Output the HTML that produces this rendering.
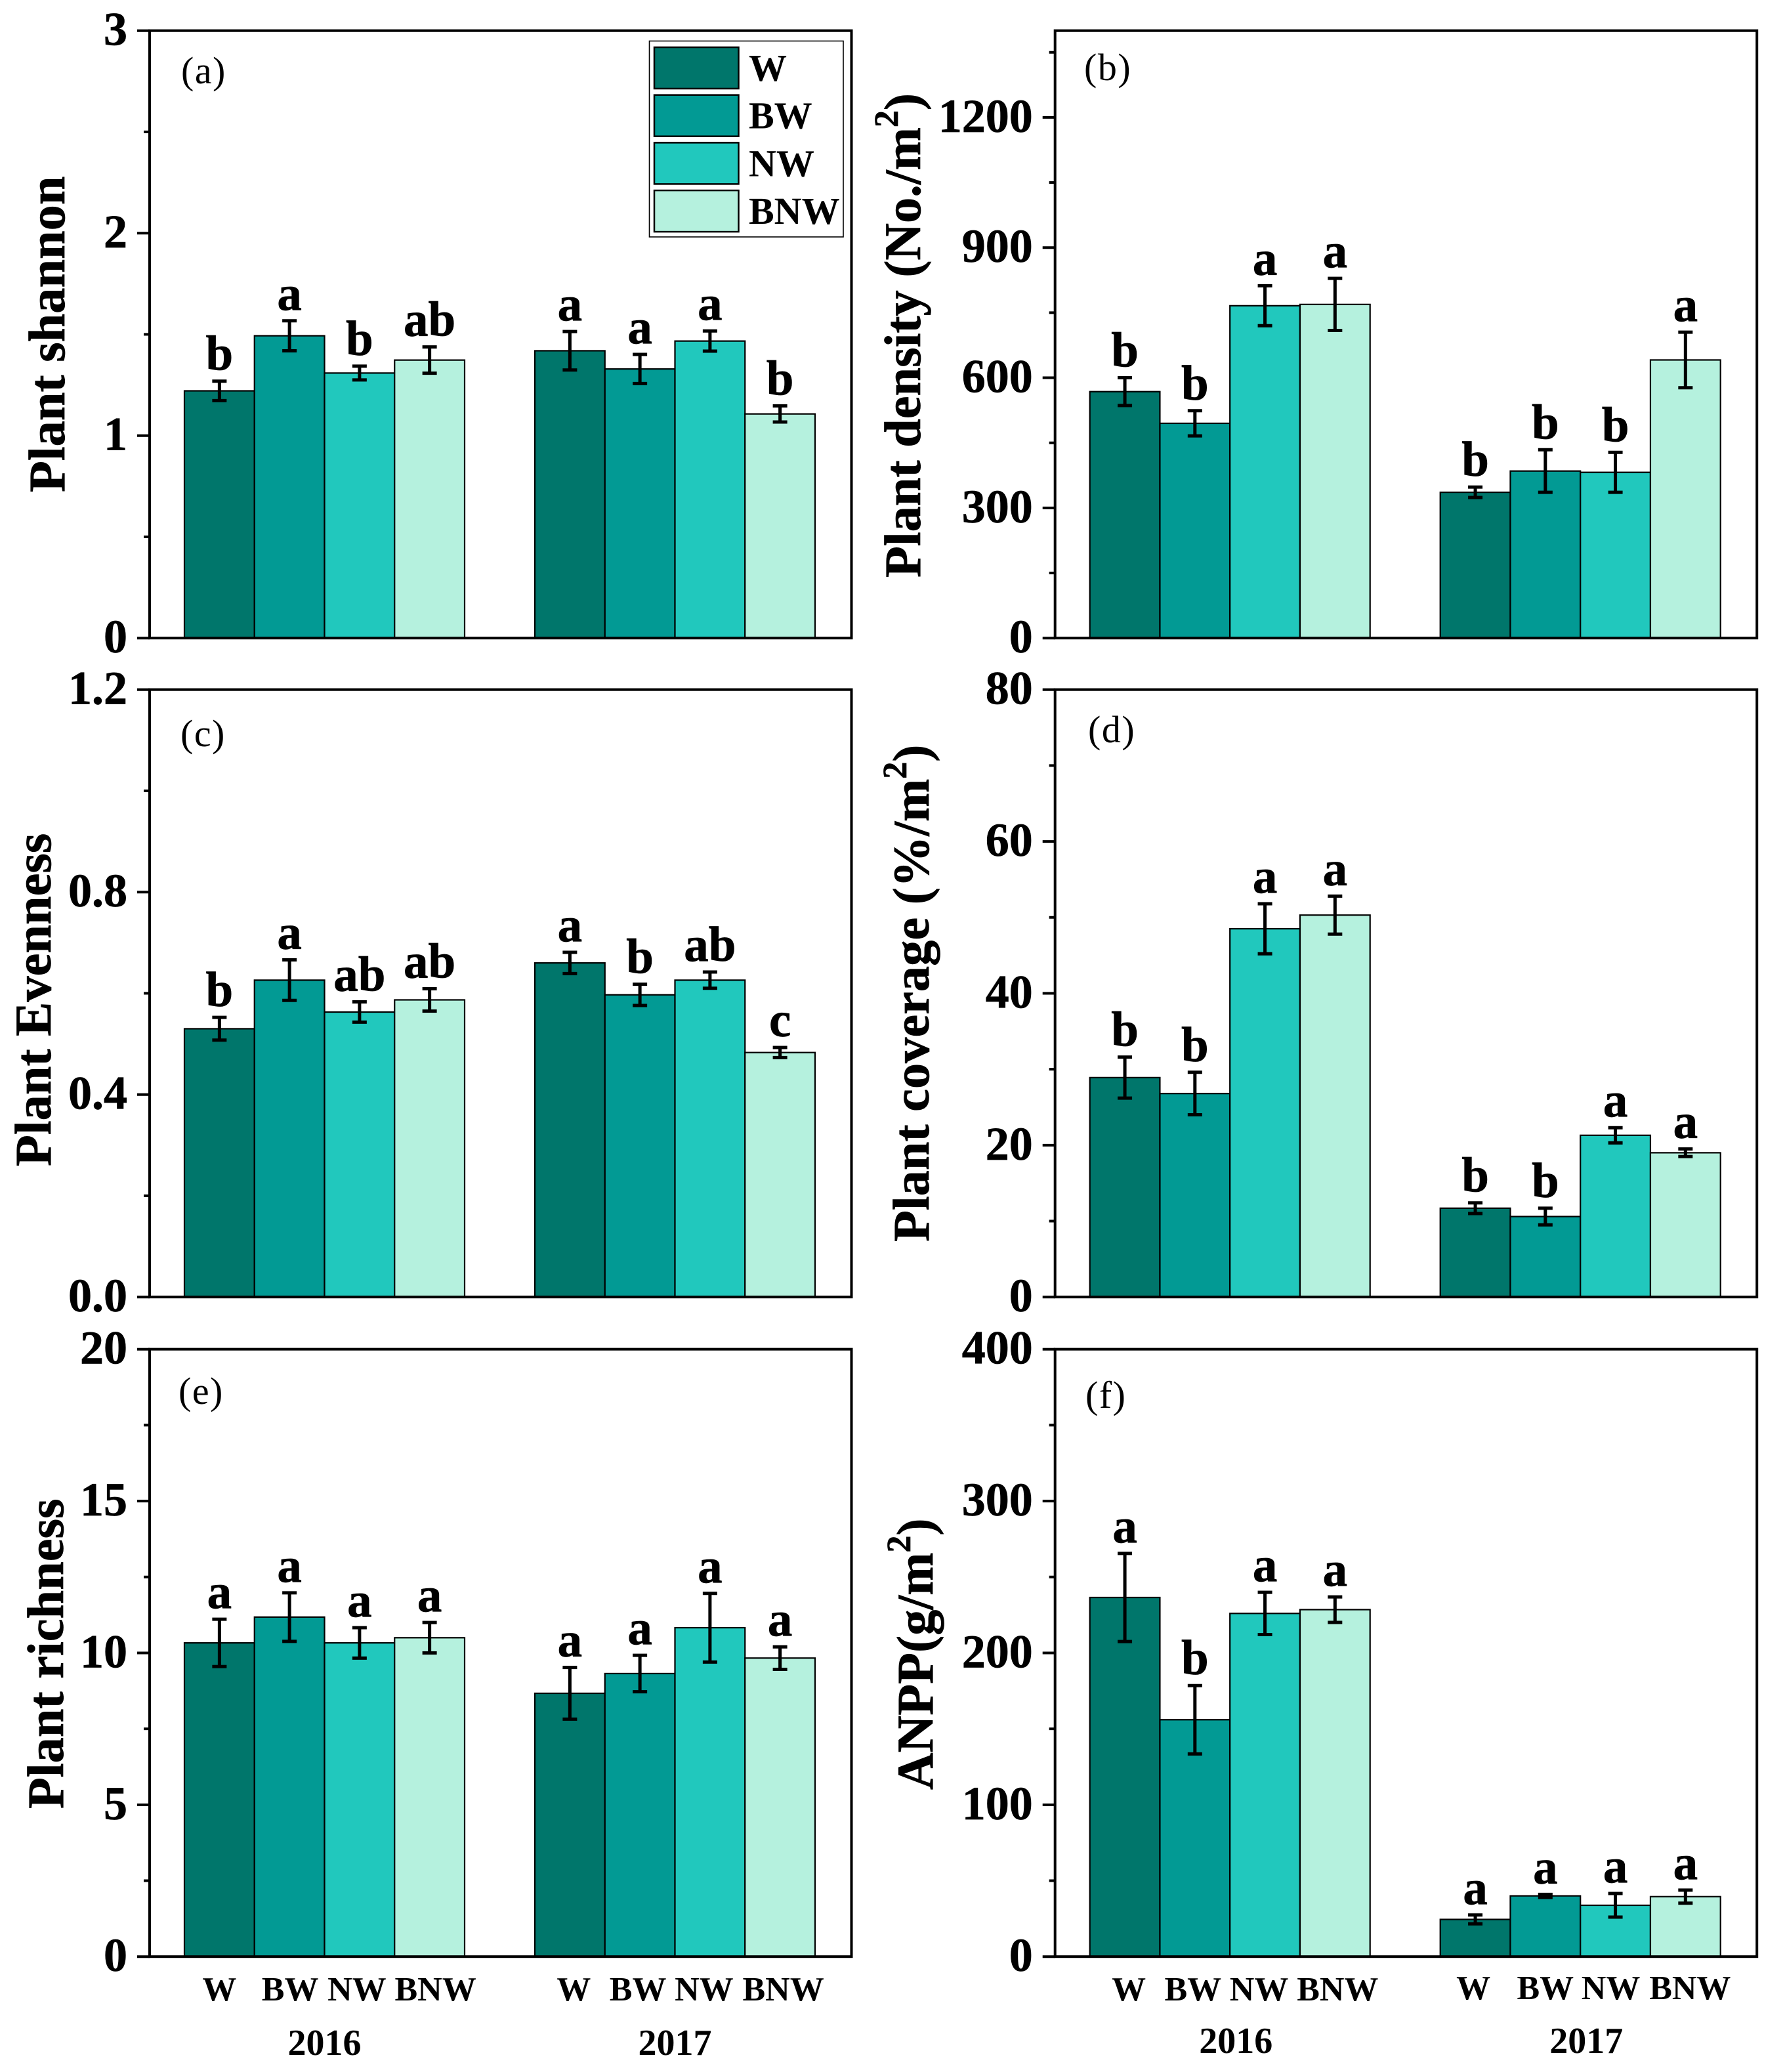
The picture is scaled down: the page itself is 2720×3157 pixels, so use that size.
<!DOCTYPE html>
<html lang="en">
<head>
<meta charset="utf-8">
<title>Plant community metrics by treatment, 2016 and 2017</title>
<style>
html,body{margin:0;padding:0;background:#fff;}
svg{display:block;}
text{font-family:"Liberation Serif",serif;fill:#000;}
.bold{font-weight:bold;}
.heavy{font-weight:bold;stroke:#000;stroke-width:0.7px;}
.tag{letter-spacing:1.5px;}
</style>
</head>
<body>
<svg id="figure" xmlns="http://www.w3.org/2000/svg" width="2720" height="3157" viewBox="0 0 2720 3157"></svg>
<script>
/* ---------- shared categories ---------- */
var years = ['2016', '2017'];
var treatments = ['W', 'BW', 'NW', 'BNW'];
var treatmentColors = ['#00766b', '#029a94', '#21c8bd', '#b5f1de'];

/* ---------- (a) Plant shannon ---------- */
var shannonMeans = [1.221, 1.493, 1.309, 1.373, 1.419, 1.329, 1.467, 1.107];
var shannonErrors = [0.048, 0.074, 0.034, 0.065, 0.095, 0.072, 0.05, 0.04];
var shannonLetters = ['b', 'a', 'b', 'ab', 'a', 'a', 'a', 'b'];
var shannonTicks = ['0', '1', '2', '3'];

/* ---------- (b) Plant density ---------- */
var densityMeans = [568, 495, 766, 769, 336, 385, 382, 641];
var densityErrors = [32, 29, 46, 60, 12, 49, 46, 64];
var densityLetters = ['b', 'b', 'a', 'a', 'b', 'b', 'b', 'a'];
var densityTicks = ['0', '300', '600', '900', '1200'];

/* ---------- (c) Plant evenness ---------- */
var evennessMeans = [0.53, 0.626, 0.563, 0.587, 0.66, 0.597, 0.626, 0.483];
var evennessErrors = [0.0225, 0.04, 0.02, 0.022, 0.021, 0.021, 0.016, 0.01];
var evennessLetters = ['b', 'a', 'ab', 'ab', 'a', 'b', 'ab', 'c'];
var evennessTicks = ['0.0', '0.4', '0.8', '1.2'];

/* ---------- (d) Plant coverage ---------- */
var coverageMeans = [28.9, 26.8, 48.5, 50.3, 11.7, 10.6, 21.3, 19];
var coverageErrors = [2.7, 2.8, 3.3, 2.5, 0.7, 1.1, 1, 0.5];
var coverageLetters = ['b', 'b', 'a', 'a', 'b', 'b', 'a', 'a'];
var coverageTicks = ['0', '20', '40', '60', '80'];

/* ---------- (e) Plant richness ---------- */
var richnessMeans = [10.33, 11.18, 10.33, 10.5, 8.67, 9.32, 10.83, 9.83];
var richnessErrors = [0.78, 0.8, 0.5, 0.5, 0.85, 0.6, 1.13, 0.37];
var richnessLetters = ['a', 'a', 'a', 'a', 'a', 'a', 'a', 'a'];
var richnessTicks = ['0', '5', '10', '15', '20'];

/* ---------- (f) ANPP ---------- */
var anppMeans = [236.5, 156, 226, 228.5, 24.5, 40, 33.8, 39.5];
var anppErrors = [29, 22.5, 13.9, 8.4, 2.9, 1, 7.8, 4.3];
var anppLetters = ['a', 'b', 'a', 'a', 'a', 'a', 'a', 'a'];
var anppTicks = ['0', '100', '200', '300', '400'];

/* ---------- layout ---------- */
var SVG_NS = 'http://www.w3.org/2000/svg';
var figure = document.getElementById('figure');
var PANEL_W = 1069.5;
var PANEL_H = 925.5;
var BAR_OFFSET = 53;
var BAR_W = 106.75;
var GROUP_STEP = 534;

function make(tag, attrs, parent, content) {
  var node = document.createElementNS(SVG_NS, tag);
  for (var k in attrs) { node.setAttribute(k, attrs[k]); }
  if (content !== undefined) { node.textContent = content; }
  parent.appendChild(node);
  return node;
}

function drawPanel(p) {
  var g = make('g', {}, figure);
  
  

  function yScale(v) { return p.top + PANEL_H - (v / p.max) * PANEL_H; }
  function barLeft(index) {
    var group = Math.floor(index / treatments.length);
    var within = index % treatments.length;
    return p.left + BAR_OFFSET + group * GROUP_STEP + within * BAR_W;
  }

  /* bars */
  p.means.forEach(function (value, i) {
    var rect = make('rect', {
      x: barLeft(i), y: yScale(value), width: BAR_W,
      height: yScale(0) - yScale(value),
      fill: treatmentColors[i % treatments.length],
      stroke: '#000', 'stroke-width': 2.2
    }, g);
    
    
  });

  /* error bars + significance letters */
  p.means.forEach(function (value, i) {
    var cx = barLeft(i) + BAR_W / 2;
    var hi = yScale(value + p.errors[i]);
    var lo = yScale(value - p.errors[i]);
    var err = make('path', {
      d: 'M' + (cx - 11) + ' ' + hi + 'H' + (cx + 11) + 'M' + cx + ' ' + hi + 'V' + lo + 'M' + (cx - 11) + ' ' + lo + 'H' + (cx + 11),
      fill: 'none', stroke: '#000', 'stroke-width': 5
    }, g);
    
    
    var letter = make('text', {
      x: cx, y: hi - 17, 'text-anchor': 'middle', 'font-size': 75, 'class': 'heavy'
    }, g, p.letters[i]);
    
    
  });

  /* frame */
  var frame = make('rect', {
    x: p.left, y: p.top, width: PANEL_W, height: PANEL_H,
    fill: 'none', stroke: '#000', 'stroke-width': 4
  }, g);
  
  

  /* minor ticks */
  for (var m = p.minorStep; m < p.max; m += 2 * p.minorStep) {
    var minor = make('line', {
      x1: p.left - 9, x2: p.left, y1: yScale(m), y2: yScale(m),
      stroke: '#000', 'stroke-width': 4
    }, g);
    
    
  }

  /* major ticks + labels */
  p.ticks.forEach(function (label) {
    var v = Number(label);
    var tick = make('line', {
      x1: p.left - 19, x2: p.left, y1: yScale(v), y2: yScale(v),
      stroke: '#000', 'stroke-width': 4
    }, g);
    
    
    var text = make('text', {
      x: p.left - 34, y: yScale(v) + 22, 'text-anchor': 'end', 'font-size': 72, 'class': 'heavy'
    }, g, label);
    
    
  });

  /* y title */
  var title = make('text', {
    transform: 'translate(' + p.titleX + ' ' + p.titleY + ') rotate(-90)',
    x: 0, y: 0, 'font-size': 78.4, 'class': 'heavy'
  }, g);
  
  
  make('tspan', {}, title, p.title);
  if (p.titleSup) {
    make('tspan', { dy: -34, 'font-size': 52 }, title, p.titleSup);
    make('tspan', { dy: 34 }, title, p.titleTail);
  }

  /* panel label */
  var tag = make('text', { x: p.tagX, y: p.tagY, 'font-size': 58, 'class': 'tag' }, g, p.tag);
  
  

  /* x labels */
  if (p.xLabelBaseline) {
    p.means.forEach(function (value, i) {
      var cx = barLeft(i) + BAR_W / 2 + p.xLabelNudge[i];
      var xl = make('text', {
        x: cx, y: i < 4 ? p.xLabelBaseline : p.xLabelBaseline2,
        'text-anchor': 'middle', 'font-size': 52, 'class': 'bold'
      }, g, treatments[i % 4]);
      
      
    });
    years.forEach(function (year, j) {
      var yl = make('text', {
        x: p.left + BAR_OFFSET + j * GROUP_STEP + 2 * BAR_W + p.yearNudge,
        y: p.yearBaseline, 'text-anchor': 'middle', 'font-size': 56, 'class': 'bold'
      }, g, year);
      
      
    });
  }
}

var ROW_1 = 46.7, ROW_2 = 1050.7, ROW_3 = 2055.7, COL_1 = 228, COL_2 = 1607.7;

drawPanel({ key: 'shannon', left: COL_1, top: ROW_1, max: 3, minorStep: 0.5,
  means: shannonMeans, errors: shannonErrors, letters: shannonLetters, ticks: shannonTicks,
  title: 'Plant shannon', titleX: 98, titleY: 750, tag: '(a)', tagX: 276, tagY: 127 });

drawPanel({ key: 'density', left: COL_2, top: ROW_1, max: 1400, minorStep: 150,
  means: densityMeans, errors: densityErrors, letters: densityLetters, ticks: densityTicks,
  title: 'Plant density (No./m', titleSup: '2', titleTail: ')', titleX: 1402, titleY: 880,
  tag: '(b)', tagX: 1652, tagY: 122 });

drawPanel({ key: 'evenness', left: COL_1, top: ROW_2, max: 1.2, minorStep: 0.2,
  means: evennessMeans, errors: evennessErrors, letters: evennessLetters, ticks: evennessTicks,
  title: 'Plant Evenness', titleX: 77, titleY: 1777, tag: '(c)', tagX: 275, tagY: 1137 });

drawPanel({ key: 'coverage', left: COL_2, top: ROW_2, max: 80, minorStep: 10,
  means: coverageMeans, errors: coverageErrors, letters: coverageLetters, ticks: coverageTicks,
  title: 'Plant coverage (%/m', titleSup: '2', titleTail: ')', titleX: 1415, titleY: 1892,
  tag: '(d)', tagX: 1658, tagY: 1131 });

drawPanel({ key: 'richness', left: COL_1, top: ROW_3, max: 20, minorStep: 2.5,
  means: richnessMeans, errors: richnessErrors, letters: richnessLetters, ticks: richnessTicks,
  title: 'Plant richness', titleX: 96, titleY: 2756, tag: '(e)', tagX: 272, tagY: 2139,
  xLabelBaseline: 3048, xLabelBaseline2: 3048, yearBaseline: 3131, yearNudge: 0,
  xLabelNudge: [0, 1, -4, 9, 6, -3, -9, 5] });

drawPanel({ key: 'anpp', left: COL_2, top: ROW_3, max: 400, minorStep: 50,
  means: anppMeans, errors: anppErrors, letters: anppLetters, ticks: anppTicks,
  title: 'ANPP(g/m', titleSup: '2', titleTail: ')', titleX: 1421, titleY: 2727,
  tag: '(f)', tagX: 1654, tagY: 2145,
  xLabelBaseline: 3048, xLabelBaseline2: 3046, yearBaseline: 3128, yearNudge: 9,
  xLabelNudge: [6, -3, -9, 4, -3, 0, -7, 7] });

/* ---------- legend ---------- */
var legend = make('g', {}, figure);


var legendBox = make('rect', {
  x: 989.5, y: 62.5, width: 295.5, height: 298.5, fill: '#fff', stroke: '#000', 'stroke-width': 1.6
}, legend);


treatments.forEach(function (name, i) {
  var swatch = make('rect', {
    x: 997, y: 72 + i * 72.7, width: 128.5, height: 63,
    fill: treatmentColors[i], stroke: '#000', 'stroke-width': 2.5
  }, legend);
  
  
  var label = make('text', {
    x: 1141, y: 123 + i * 72.7, 'font-size': 58, 'class': 'bold'
  }, legend, name);
  
  
});
</script>
</body>
</html>
